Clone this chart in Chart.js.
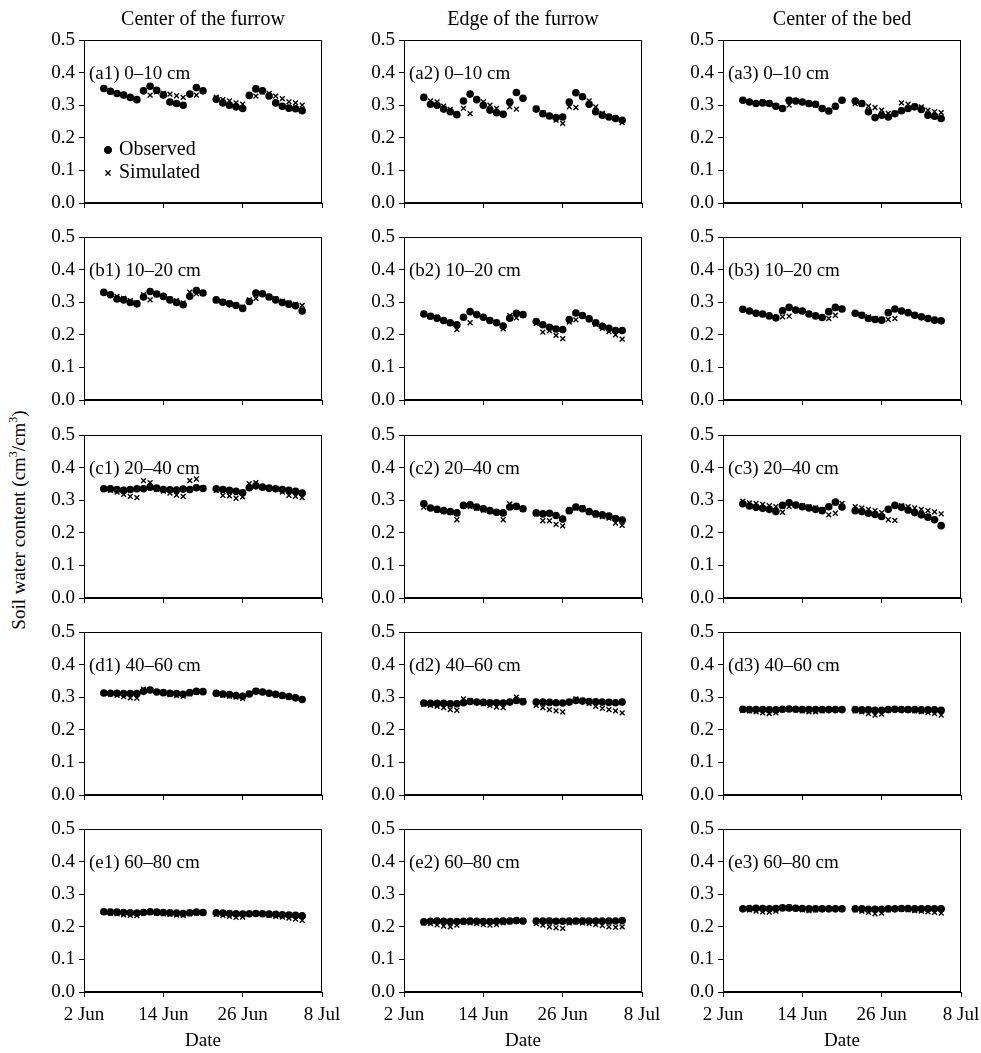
<!DOCTYPE html>
<html>
<head>
<meta charset="utf-8">
<script src="https://cdn.jsdelivr.net/npm/chart.js@4.4.0/dist/chart.umd.min.js"></script>
<style>
    body { margin: 0; background: #fff; width: 981px; height: 1053px; position: relative; overflow: hidden;
           font-family: 'Liberation Serif', 'Times New Roman', serif; color: #000; }
    canvas { position: absolute; }
    .col-title { position: absolute; top: 7px; width: 300px; text-align: center; font-size: 20px; }
    .y-title { position: absolute; left: 18px; top: 520px; white-space: nowrap; font-size: 19px;
               transform: translate(-50%, -50%) rotate(-90deg); }
    .y-title sup { font-size: 12px; }
</style>
</head>
<body>
<div id="root"></div>
<div class="y-title">Soil water content (cm<sup>3</sup>/cm<sup>3</sup>)</div>
<script>
// Measurement dates (one gap on 21 Jun)
const dates = ['Jun 5', 'Jun 6', 'Jun 7', 'Jun 8', 'Jun 9', 'Jun 10', 'Jun 11', 'Jun 12',
    'Jun 13', 'Jun 14', 'Jun 15', 'Jun 16', 'Jun 17', 'Jun 18', 'Jun 19', 'Jun 20',
    'Jun 22', 'Jun 23', 'Jun 24', 'Jun 25', 'Jun 26', 'Jun 27', 'Jun 28', 'Jun 29',
    'Jun 30', 'Jul 1', 'Jul 2', 'Jul 3', 'Jul 4', 'Jul 5'];

// Axis ticks (x in days after 2 Jun)
const xTickDays = [0, 12, 24, 36];
const xTickLabels = ['2 Jun', '14 Jun', '26 Jun', '8 Jul'];
const yTickValues = [0, 0.1, 0.2, 0.3, 0.4, 0.5];
const yTickLabels = ['0.0', '0.1', '0.2', '0.3', '0.4', '0.5'];

const columnTitles = ['Center of the furrow', 'Edge of the furrow', 'Center of the bed'];
const panelLabels = [
    ['(a1) 0\u201310 cm', '(a2) 0\u201310 cm', '(a3) 0\u201310 cm'],
    ['(b1) 10\u201320 cm', '(b2) 10\u201320 cm', '(b3) 10\u201320 cm'],
    ['(c1) 20\u201340 cm', '(c2) 20\u201340 cm', '(c3) 20\u201340 cm'],
    ['(d1) 40\u201360 cm', '(d2) 40\u201360 cm', '(d3) 40\u201360 cm'],
    ['(e1) 60\u201380 cm', '(e2) 60\u201380 cm', '(e3) 60\u201380 cm']
];

// 0-10 cm
const obsA1 = [0.351, 0.343, 0.336, 0.331, 0.324, 0.317, 0.344, 0.358, 0.346, 0.331, 0.310, 0.305, 0.300, 0.334, 0.354, 0.344,
    0.318, 0.307, 0.300, 0.295, 0.290, 0.330, 0.350, 0.344, 0.328, 0.307, 0.297, 0.291, 0.289, 0.283];
const simA1 = [0.350, 0.342, 0.335, 0.330, 0.323, 0.318, 0.345, 0.331, 0.341, 0.336, 0.334, 0.329, 0.324, 0.334, 0.331, 0.344,
    0.325, 0.317, 0.313, 0.307, 0.303, 0.330, 0.328, 0.341, 0.336, 0.328, 0.320, 0.310, 0.307, 0.300];
const obsA2 = [0.324, 0.303, 0.300, 0.288, 0.280, 0.271, 0.313, 0.334, 0.317, 0.300, 0.285, 0.277, 0.272, 0.310, 0.339, 0.321,
    0.288, 0.274, 0.267, 0.262, 0.264, 0.310, 0.338, 0.326, 0.303, 0.280, 0.269, 0.264, 0.259, 0.254];
const simA2 = [0.324, 0.313, 0.310, 0.297, 0.287, 0.272, 0.290, 0.274, 0.317, 0.310, 0.300, 0.290, 0.275, 0.295, 0.288, 0.321,
    0.290, 0.276, 0.268, 0.254, 0.244, 0.295, 0.293, 0.325, 0.313, 0.295, 0.275, 0.265, 0.260, 0.247];
const obsA3 = [0.315, 0.310, 0.305, 0.307, 0.305, 0.297, 0.290, 0.315, 0.313, 0.310, 0.305, 0.303, 0.290, 0.282, 0.297, 0.315,
    0.313, 0.305, 0.280, 0.262, 0.269, 0.264, 0.274, 0.283, 0.290, 0.295, 0.287, 0.269, 0.266, 0.259];
const simA3 = [0.315, 0.310, 0.305, 0.310, 0.307, 0.298, 0.290, 0.300, 0.313, 0.310, 0.303, 0.300, 0.290, 0.283, 0.295, 0.315,
    0.305, 0.303, 0.297, 0.293, 0.285, 0.275, 0.275, 0.307, 0.303, 0.297, 0.295, 0.285, 0.280, 0.277];

// 10-20 cm
const obsB1 = [0.330, 0.323, 0.310, 0.307, 0.299, 0.295, 0.316, 0.333, 0.325, 0.318, 0.307, 0.299, 0.292, 0.318, 0.336, 0.328,
    0.307, 0.300, 0.295, 0.290, 0.281, 0.302, 0.328, 0.326, 0.316, 0.307, 0.299, 0.294, 0.289, 0.273];
const simB1 = [0.330, 0.323, 0.318, 0.312, 0.305, 0.298, 0.323, 0.307, 0.323, 0.316, 0.310, 0.305, 0.298, 0.331, 0.326, 0.328,
    0.305, 0.302, 0.297, 0.292, 0.285, 0.307, 0.312, 0.325, 0.318, 0.310, 0.303, 0.298, 0.293, 0.290];
const obsB2 = [0.264, 0.257, 0.251, 0.244, 0.237, 0.231, 0.254, 0.271, 0.262, 0.254, 0.244, 0.237, 0.227, 0.251, 0.266, 0.262,
    0.241, 0.231, 0.223, 0.218, 0.216, 0.247, 0.267, 0.259, 0.249, 0.237, 0.226, 0.220, 0.213, 0.213];
const simB2 = [0.266, 0.258, 0.250, 0.243, 0.235, 0.216, 0.255, 0.237, 0.262, 0.255, 0.245, 0.237, 0.218, 0.259, 0.252, 0.260,
    0.235, 0.208, 0.213, 0.198, 0.188, 0.239, 0.246, 0.259, 0.247, 0.232, 0.220, 0.210, 0.200, 0.187];
const obsB3 = [0.278, 0.273, 0.266, 0.264, 0.258, 0.252, 0.274, 0.284, 0.276, 0.273, 0.264, 0.258, 0.253, 0.271, 0.284, 0.279,
    0.266, 0.260, 0.250, 0.247, 0.245, 0.268, 0.279, 0.273, 0.268, 0.260, 0.255, 0.250, 0.245, 0.243];
const simB3 = [0.277, 0.272, 0.265, 0.262, 0.257, 0.252, 0.255, 0.257, 0.275, 0.272, 0.265, 0.259, 0.253, 0.250, 0.260, 0.278,
    0.265, 0.262, 0.255, 0.250, 0.247, 0.247, 0.250, 0.274, 0.268, 0.261, 0.255, 0.250, 0.246, 0.243];

// 20-40 cm
const obsC1 = [0.335, 0.335, 0.333, 0.330, 0.333, 0.335, 0.335, 0.340, 0.337, 0.333, 0.332, 0.331, 0.334, 0.333, 0.338, 0.336,
    0.335, 0.333, 0.330, 0.327, 0.323, 0.338, 0.344, 0.340, 0.337, 0.335, 0.333, 0.330, 0.327, 0.322];
const simC1 = [0.333, 0.330, 0.325, 0.318, 0.312, 0.308, 0.360, 0.354, 0.333, 0.328, 0.322, 0.316, 0.312, 0.360, 0.365, 0.338,
    0.330, 0.315, 0.313, 0.306, 0.310, 0.351, 0.354, 0.340, 0.337, 0.333, 0.325, 0.315, 0.312, 0.308];
const obsC2 = [0.289, 0.276, 0.272, 0.268, 0.265, 0.261, 0.284, 0.286, 0.279, 0.274, 0.268, 0.263, 0.261, 0.279, 0.281, 0.274,
    0.261, 0.258, 0.260, 0.253, 0.242, 0.268, 0.279, 0.274, 0.265, 0.258, 0.255, 0.251, 0.244, 0.239];
const simC2 = [0.279, 0.275, 0.270, 0.265, 0.262, 0.240, 0.283, 0.280, 0.275, 0.270, 0.265, 0.262, 0.240, 0.289, 0.280, 0.272,
    0.258, 0.237, 0.237, 0.226, 0.221, 0.265, 0.276, 0.276, 0.262, 0.255, 0.250, 0.245, 0.230, 0.223];
const obsC3 = [0.289, 0.282, 0.278, 0.275, 0.272, 0.265, 0.284, 0.292, 0.285, 0.280, 0.276, 0.272, 0.268, 0.280, 0.294, 0.279,
    0.268, 0.265, 0.260, 0.256, 0.250, 0.272, 0.284, 0.278, 0.270, 0.262, 0.255, 0.248, 0.240, 0.222];
const simC3 = [0.297, 0.292, 0.290, 0.287, 0.283, 0.280, 0.263, 0.280, 0.285, 0.283, 0.280, 0.276, 0.272, 0.255, 0.260, 0.290,
    0.280, 0.276, 0.272, 0.268, 0.262, 0.240, 0.238, 0.283, 0.280, 0.276, 0.272, 0.268, 0.264, 0.258];

// 40-60 cm
const obsD1 = [0.313, 0.312, 0.312, 0.311, 0.311, 0.311, 0.318, 0.322, 0.316, 0.314, 0.312, 0.311, 0.309, 0.314, 0.318, 0.317,
    0.312, 0.310, 0.308, 0.305, 0.303, 0.310, 0.318, 0.316, 0.312, 0.309, 0.305, 0.302, 0.298, 0.293];
const simD1 = [0.312, 0.310, 0.306, 0.302, 0.298, 0.297, 0.325, 0.322, 0.316, 0.312, 0.308, 0.305, 0.303, 0.310, 0.315, 0.318,
    0.310, 0.306, 0.303, 0.300, 0.296, 0.312, 0.320, 0.316, 0.312, 0.308, 0.304, 0.300, 0.297, 0.293];
const obsD2 = [0.282, 0.281, 0.281, 0.281, 0.280, 0.280, 0.283, 0.287, 0.285, 0.284, 0.283, 0.283, 0.282, 0.285, 0.290, 0.286,
    0.285, 0.285, 0.284, 0.283, 0.282, 0.285, 0.290, 0.288, 0.287, 0.286, 0.285, 0.284, 0.283, 0.285];
const simD2 = [0.278, 0.275, 0.272, 0.268, 0.262, 0.260, 0.295, 0.290, 0.285, 0.280, 0.275, 0.270, 0.268, 0.285, 0.300, 0.290,
    0.275, 0.268, 0.262, 0.258, 0.255, 0.285, 0.295, 0.290, 0.280, 0.272, 0.266, 0.262, 0.258, 0.252];
const obsD3 = [0.263, 0.262, 0.262, 0.262, 0.261, 0.261, 0.263, 0.264, 0.263, 0.262, 0.262, 0.262, 0.262, 0.262, 0.262, 0.262,
    0.262, 0.261, 0.261, 0.260, 0.260, 0.262, 0.263, 0.262, 0.262, 0.262, 0.261, 0.261, 0.261, 0.260];
const simD3 = [0.260, 0.258, 0.255, 0.252, 0.250, 0.252, 0.262, 0.265, 0.262, 0.258, 0.255, 0.255, 0.258, 0.262, 0.262, 0.262,
    0.258, 0.255, 0.250, 0.245, 0.248, 0.260, 0.262, 0.262, 0.260, 0.258, 0.256, 0.253, 0.250, 0.245];

// 60-80 cm
const obsE1 = [0.246, 0.245, 0.245, 0.244, 0.243, 0.242, 0.244, 0.246, 0.245, 0.244, 0.243, 0.242, 0.241, 0.243, 0.245, 0.244,
    0.243, 0.242, 0.241, 0.240, 0.239, 0.240, 0.241, 0.240, 0.239, 0.238, 0.237, 0.236, 0.235, 0.234];
const simE1 = [0.244, 0.242, 0.240, 0.237, 0.235, 0.234, 0.246, 0.244, 0.242, 0.240, 0.238, 0.236, 0.235, 0.240, 0.243, 0.242,
    0.238, 0.235, 0.232, 0.229, 0.230, 0.238, 0.240, 0.238, 0.235, 0.232, 0.230, 0.227, 0.224, 0.220];
const obsE2 = [0.215, 0.217, 0.218, 0.217, 0.216, 0.216, 0.217, 0.218, 0.217, 0.216, 0.216, 0.217, 0.218, 0.218, 0.219, 0.218,
    0.218, 0.218, 0.218, 0.217, 0.217, 0.218, 0.218, 0.218, 0.218, 0.218, 0.218, 0.218, 0.218, 0.219];
const simE2 = [0.212, 0.210, 0.206, 0.202, 0.200, 0.205, 0.215, 0.212, 0.210, 0.207, 0.205, 0.207, 0.212, 0.215, 0.217, 0.216,
    0.210, 0.205, 0.200, 0.197, 0.195, 0.212, 0.215, 0.212, 0.210, 0.207, 0.204, 0.200, 0.198, 0.200];
const obsE3 = [0.255, 0.256, 0.257, 0.256, 0.255, 0.256, 0.258, 0.258, 0.257, 0.256, 0.255, 0.255, 0.255, 0.255, 0.255, 0.255,
    0.255, 0.255, 0.254, 0.254, 0.254, 0.255, 0.255, 0.256, 0.256, 0.255, 0.255, 0.255, 0.255, 0.255];
const simE3 = [0.254, 0.252, 0.248, 0.246, 0.245, 0.248, 0.258, 0.260, 0.256, 0.252, 0.250, 0.252, 0.254, 0.255, 0.255, 0.255,
    0.252, 0.248, 0.244, 0.240, 0.242, 0.252, 0.255, 0.254, 0.252, 0.250, 0.248, 0.246, 0.244, 0.242];

const observed = [[obsA1, obsA2, obsA3], [obsB1, obsB2, obsB3], [obsC1, obsC2, obsC3], [obsD1, obsD2, obsD3], [obsE1, obsE2, obsE3]];
const simulated = [[simA1, simA2, simA3], [simB1, simB2, simB3], [simC1, simC2, simC3], [simD1, simD2, simD3], [simE1, simE2, simE3]];

// Layout of the grid (pixels)
const plotLeft = [84, 404, 723];
const plotTop = [40, 237, 435, 632, 829];
const plotW = 238, plotH = 163;
const yAxisW = 46, padT = 12, padR = 22;
const FONT = "'Liberation Serif', 'Times New Roman', serif";
const TICK_SIZE = 19;

function dayOf(s) {
    const [m, d] = s.split(' ');
    return m === 'Jun' ? Number(d) - 2 : Number(d) + 28;
}
const days = dates.map(dayOf);

const framePlugin = {
    id: 'frame',
    afterDraw(chart) {
        const { ctx, chartArea: a } = chart;
        ctx.save();
        ctx.strokeStyle = '#000';
        ctx.lineWidth = 1;
        ctx.strokeRect(Math.round(a.left) + 0.5, Math.round(a.top) + 0.5,
            Math.round(a.right - a.left) - 1, Math.round(a.bottom - a.top) - 1);
        ctx.restore();
    }
};

const labelPlugin = {
    id: 'panelLabel',
    afterDraw(chart, args, opts) {
        const { ctx, chartArea: a } = chart;
        ctx.save();
        ctx.fillStyle = '#000';
        ctx.font = '19px ' + FONT;
        ctx.textBaseline = 'middle';
        ctx.fillText(opts.text, a.left + 5, a.top + 34);
        if (opts.legend) {
            // legend inside (a1)
            const items = chart.data.datasets;
            items.forEach((ds, i) => {
                const y = a.top + 110 + i * 23;
                Chart.helpers.drawPoint(ctx, {
                    pointStyle: ds.pointStyle, radius: ds.pointRadius, borderWidth: ds.borderWidth
                }, a.left + 24, y);
                ctx.fillStyle = '#000';
                ctx.strokeStyle = '#000';
                ctx.lineWidth = ds.borderWidth;
                if (ds.pointStyle === 'circle') ctx.fill(); else ctx.stroke();
                ctx.font = '20px ' + FONT;
                ctx.fillText(ds.label, a.left + 35, y);
            });
        }
        ctx.restore();
    }
};

const root = document.getElementById('root');

columnTitles.forEach((t, c) => {
    const div = document.createElement('div');
    div.className = 'col-title';
    div.style.left = (plotLeft[c] + plotW / 2 - 150) + 'px';
    div.textContent = t;
    document.body.appendChild(div);
});

// keep label overflow from shrinking the plot area
function noPad(s) {
    s.paddingTop = 0;
    s.paddingBottom = 0;
    s.paddingLeft = 0;
    s.paddingRight = 0;
}

for (let r = 0; r < 5; r++) {
    for (let c = 0; c < 3; c++) {
        const isBottom = r === 4;
        const xAxisH = isBottom ? 61 : 6;
        const padB = isBottom ? 0 : 8;
        const canvas = document.createElement('canvas');
        canvas.width = yAxisW + plotW + padR;
        canvas.height = padT + plotH + xAxisH + padB;
        canvas.style.left = (plotLeft[c] - yAxisW) + 'px';
        canvas.style.top = (plotTop[r] - padT) + 'px';
        root.appendChild(canvas);

        const obs = observed[r][c], sim = simulated[r][c];
        new Chart(canvas.getContext('2d'), {
            type: 'scatter',
            data: {
                datasets: [{
                    label: 'Observed',
                    data: obs.map((v, i) => ({ x: days[i], y: v })),
                    pointStyle: 'circle',
                    pointRadius: 3.8,
                    backgroundColor: '#000',
                    borderColor: '#000',
                    borderWidth: 0
                }, {
                    label: 'Simulated',
                    data: sim.map((v, i) => ({ x: days[i], y: v })),
                    pointStyle: 'crossRot',
                    pointRadius: 3.4,
                    backgroundColor: '#000',
                    borderColor: '#000',
                    borderWidth: 1.4
                }]
            },
            options: {
                responsive: false,
                animation: false,
                events: [],
                layout: { padding: { top: padT, right: padR, left: 0, bottom: padB } },
                plugins: {
                    legend: { display: false },
                    tooltip: { enabled: false },
                    panelLabel: { text: panelLabels[r][c], legend: r === 0 && c === 0 }
                },
                scales: {
                    x: {
                        type: 'linear',
                        min: 0,
                        max: 36,
                        afterBuildTicks: s => { s.ticks = xTickDays.map(v => ({ value: v })); },
                        afterFit: s => { s.height = xAxisH; noPad(s); },
                        ticks: {
                            display: isBottom,
                            autoSkip: false,
                            maxRotation: 0,
                            padding: 7,
                            color: '#000',
                            font: { family: FONT, size: TICK_SIZE },
                            callback: v => xTickLabels[xTickDays.indexOf(v)]
                        },
                        grid: { drawOnChartArea: false, tickLength: 5, color: '#000' },
                        border: { color: '#000' },
                        title: {
                            display: isBottom,
                            text: 'Date',
                            color: '#000',
                            font: { family: FONT, size: 19 },
                            padding: { top: 0, bottom: 1 }
                        }
                    },
                    y: {
                        min: 0,
                        max: 0.5,
                        afterBuildTicks: s => { s.ticks = yTickValues.map(v => ({ value: v })); },
                        afterFit: s => { s.width = yAxisW; noPad(s); },
                        ticks: {
                            padding: 4,
                            color: '#000',
                            font: { family: FONT, size: TICK_SIZE },
                            callback: v => yTickLabels[yTickValues.indexOf(v)]
                        },
                        grid: { drawOnChartArea: false, tickLength: 5, color: '#000' },
                        border: { color: '#000' }
                    }
                }
            },
            plugins: [framePlugin, labelPlugin]
        });
    }
}
</script>
</body>
</html>
